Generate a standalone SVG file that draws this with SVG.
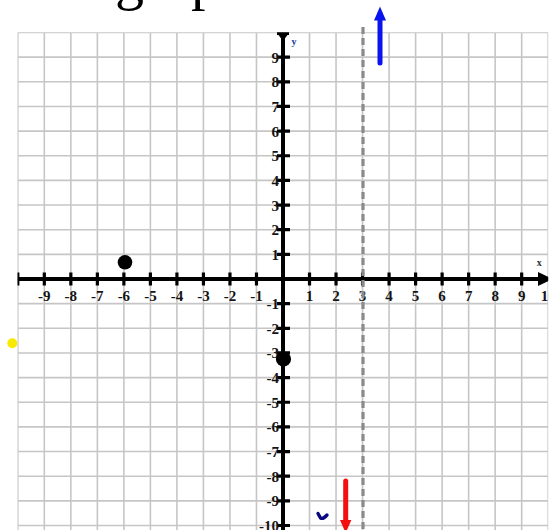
<svg xmlns="http://www.w3.org/2000/svg" width="557" height="530" viewBox="0 0 557 530">
<style>
.grid{stroke:#c6c6c6;stroke-width:1.6;fill:none}
.axis{stroke:#000;stroke-width:4;fill:none}
.tick{stroke:#000;stroke-width:3.2;fill:none}
.lbl{font-family:"Liberation Serif","Times New Roman",serif;font-weight:bold;font-size:15px;fill:#141414}
.xl{text-anchor:middle}
.yl{text-anchor:end}
.ax{font-family:"Liberation Serif","Times New Roman",serif;font-weight:bold;font-size:10px}
.big{font-family:"Liberation Serif","Times New Roman",serif;font-size:58px;fill:#000}
</style>
<defs>
<clipPath id="gc"><rect x="17.5" y="32.3" width="530.7" height="500"/></clipPath>
</defs>
<rect width="557" height="530" fill="#fff"/>
<g id="title">
<text class="big" x="115" y="-1.5">g</text>
<text class="big" x="191" y="-1.5">p</text>
</g>
<g id="plane" clip-path="url(#gc)">
<path id="grid" class="grid" d="M17.8,32.5V530M44.32,32.5V530M70.84,32.5V530M97.36,32.5V530M123.88,32.5V530M150.4,32.5V530M176.92,32.5V530M203.44,32.5V530M229.96,32.5V530M256.48,32.5V530M309.52,32.5V530M336.04,32.5V530M362.56,32.5V530M389.08,32.5V530M415.6,32.5V530M442.12,32.5V530M468.64,32.5V530M495.16,32.5V530M521.68,32.5V530M548.2,32.5V530M17.8,32.5H548.2M17.8,57.15H548.2M17.8,81.8H548.2M17.8,106.45H548.2M17.8,131.1H548.2M17.8,155.75H548.2M17.8,180.4H548.2M17.8,205.05H548.2M17.8,229.7H548.2M17.8,254.35H548.2M17.8,303.65H548.2M17.8,328.3H548.2M17.8,352.95H548.2M17.8,377.6H548.2M17.8,402.25H548.2M17.8,426.9H548.2M17.8,451.55H548.2M17.8,476.2H548.2M17.8,500.85H548.2M17.8,525.5H548.2"/>
<g id="axes">
<path class="axis" d="M17.8,279H546M283,530V36"/>
<path class="tick" d="M17.8,272.5V285.5M44.32,272.5V285.5M70.84,272.5V285.5M97.36,272.5V285.5M123.88,272.5V285.5M150.4,272.5V285.5M176.92,272.5V285.5M203.44,272.5V285.5M229.96,272.5V285.5M256.48,272.5V285.5M309.52,272.5V285.5M336.04,272.5V285.5M362.56,272.5V285.5M389.08,272.5V285.5M415.6,272.5V285.5M442.12,272.5V285.5M468.64,272.5V285.5M495.16,272.5V285.5M521.68,272.5V285.5"/>
<path class="tick" d="M277,33.5H289M277,57.15H290M277,81.8H290M277,106.45H290M277,131.1H290M277,155.75H290M277,180.4H290M277,205.05H290M277,229.7H290M277,254.35H290M277,303.65H290M277,328.3H290M277,352.95H290M277,377.6H290M277,402.25H290M277,426.9H290M277,451.55H290M277,476.2H290M277,500.85H290M277,525.5H290"/>
<polygon points="538,272 553,279 538,286" fill="#000"/>
<polygon points="277,33 289,33 283,41" fill="#000"/>
</g>
<g id="xlabels" class="lbl xl">
<text x="44.32" y="301">-9</text><text x="70.84" y="301">-8</text><text x="97.36" y="301">-7</text><text x="123.88" y="301">-6</text><text x="150.4" y="301">-5</text><text x="176.92" y="301">-4</text><text x="203.44" y="301">-3</text><text x="229.96" y="301">-2</text><text x="256.48" y="301">-1</text>
<text x="309.52" y="301">1</text><text x="336.04" y="301">2</text><text x="362.56" y="301">3</text><text x="389.08" y="301">4</text><text x="415.6" y="301">5</text><text x="442.12" y="301">6</text><text x="468.64" y="301">7</text><text x="495.16" y="301">8</text><text x="521.68" y="301">9</text><text x="548.2" y="301">10</text>
</g>
<g id="ylabels" class="lbl yl">
<text x="279" y="62.6">9</text><text x="279" y="87.3">8</text><text x="279" y="111.9">7</text><text x="279" y="136.6">6</text><text x="279" y="161.2">5</text><text x="279" y="185.9">4</text><text x="279" y="210.5">3</text><text x="279" y="235.2">2</text><text x="279" y="259.8">1</text>
<text x="279" y="309.1">-1</text><text x="279" y="333.8">-2</text><text x="279" y="358.4">-3</text><text x="279" y="383.1">-4</text><text x="279" y="407.7">-5</text><text x="279" y="432.4">-6</text><text x="279" y="457">-7</text><text x="279" y="481.7">-8</text><text x="279" y="506.3">-9</text><text x="279" y="531">-10</text>
</g>
<text class="ax" x="539.3" y="266" text-anchor="middle" fill="#333">x</text>
<text class="ax" x="291.5" y="44.5" fill="#22429a">y</text>
</g>
<g id="asymptote">
<line x1="363" y1="27" x2="363" y2="530" stroke="#8a8a8a" stroke-width="3.2" stroke-dasharray="7,4"/>
</g>
<g id="points">
<circle id="p1" cx="125" cy="262.3" r="7.3" fill="#000"/>
<circle id="p2" cx="283.5" cy="359" r="7.6" fill="#000"/>
<circle id="yellow" cx="12.3" cy="343.3" r="5" fill="#f7ea00"/>
</g>
<g id="arrows">
<g id="blue-arrow">
<line x1="380" y1="63" x2="380" y2="19" stroke="#0a14ee" stroke-width="5" stroke-linecap="round"/>
<polygon points="374,20.5 380,6.5 386,20.5" fill="#0a14ee"/>
</g>
<g id="red-arrow">
<line x1="345.7" y1="481" x2="345.7" y2="522" stroke="#f21010" stroke-width="5" stroke-linecap="round"/>
<polygon points="340,520 351.4,520 345.7,533" fill="#f21010"/>
</g>
<path id="mark" d="M318,513.5 L320.5,518 Q323,519.5 327,515" fill="none" stroke="#0a0a80" stroke-width="3.4" stroke-linecap="round" stroke-linejoin="round"/>
</g>
</svg>
